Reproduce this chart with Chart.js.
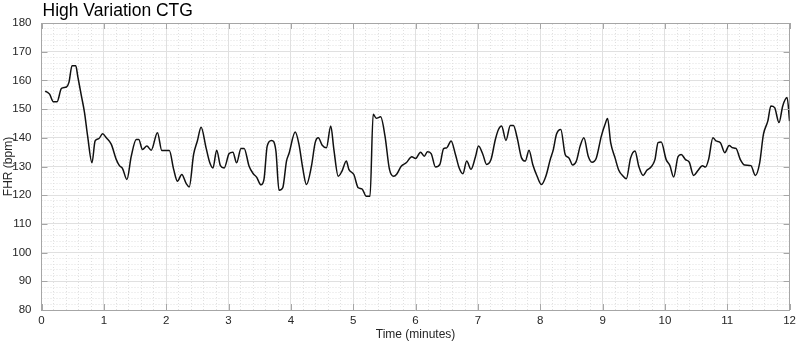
<!DOCTYPE html>
<html>
<head>
<meta charset="utf-8">
<script src="https://cdn.jsdelivr.net/npm/chart.js@4/dist/chart.umd.min.js"></script>
<style>
  html, body { margin: 0; padding: 0; background: #fff; }
  #wrap { width: 800px; height: 346px; position: relative; }
</style>
</head>
<body>
<div id="wrap"><canvas id="ctg"></canvas></div>
<script>
// Time (minutes) and FHR (bpm)
const minutes = [
  0.06, 0.13, 0.19, 0.25, 0.32, 0.40, 0.44, 0.49, 0.55, 0.58,
  0.64, 0.69, 0.74, 0.81, 0.86, 0.92, 0.98, 1.04, 1.12, 1.20,
  1.25, 1.30, 1.37, 1.44, 1.52, 1.56, 1.62, 1.69, 1.76, 1.86,
  1.93, 2.05, 2.12, 2.18, 2.25, 2.32, 2.37, 2.44, 2.50, 2.56,
  2.64, 2.70, 2.75, 2.81, 2.87, 2.93, 3.01, 3.07, 3.13, 3.20,
  3.25, 3.33, 3.40, 3.45, 3.52, 3.57, 3.62, 3.69, 3.76, 3.81,
  3.87, 3.93, 3.97, 4.07, 4.13, 4.19, 4.25, 4.33, 4.39, 4.44,
  4.50, 4.57, 4.64, 4.69, 4.76, 4.82, 4.89, 4.93, 5.01, 5.08,
  5.14, 5.21, 5.27, 5.32, 5.37, 5.44, 5.51, 5.58, 5.65, 5.70,
  5.77, 5.85, 5.94, 6.00, 6.08, 6.14, 6.19, 6.25, 6.32, 6.39,
  6.45, 6.50, 6.57, 6.64, 6.70, 6.76, 6.82, 6.89, 6.96, 7.01,
  7.08, 7.14, 7.21, 7.28, 7.33, 7.38, 7.45, 7.52, 7.57, 7.63,
  7.70, 7.76, 7.82, 7.88, 7.95, 8.02, 8.09, 8.16, 8.21, 8.26,
  8.33, 8.40, 8.46, 8.52, 8.58, 8.64, 8.70, 8.77, 8.83, 8.90,
  8.98, 9.04, 9.08, 9.13, 9.20, 9.26, 9.33, 9.38, 9.45, 9.52,
  9.58, 9.65, 9.71, 9.78, 9.84, 9.89, 9.94, 10.02, 10.08, 10.14,
  10.21, 10.26, 10.33, 10.39, 10.46, 10.53, 10.60, 10.65, 10.70, 10.77,
  10.82, 10.89, 10.96, 11.03, 11.09, 11.14, 11.21, 11.28, 11.38, 11.45,
  11.52, 11.58, 11.65, 11.70, 11.76, 11.83, 11.89, 11.96, 12.00
];
const fhr = [
  156.3, 155.2, 152.6, 152.6, 157.2, 157.7, 159.3, 165.1, 165.1, 161.6,
  154.6, 148.8, 140.6, 131.3, 138.9, 139.7, 141.4, 140.0, 137.7, 132.4,
  130.3, 129.3, 125.5, 133.6, 139.4, 139.4, 135.9, 137.1, 135.7, 141.8,
  135.6, 135.6, 129.0, 124.9, 127.2, 124.1, 122.9, 134.2, 138.9, 143.7,
  136.5, 131.3, 129.5, 135.7, 130.3, 129.5, 134.5, 135.0, 131.3, 136.3,
  136.3, 130.1, 127.4, 126.3, 123.6, 125.7, 137.1, 139.1, 135.4, 121.7,
  122.6, 131.9, 134.5, 142.0, 137.7, 129.5, 123.7, 130.1, 138.3, 140.0,
  137.5, 136.5, 144.1, 135.9, 126.6, 128.4, 131.9, 129.0, 127.2, 122.6,
  122.2, 119.6, 119.6, 148.2, 146.8, 147.3, 140.6, 129.2, 126.6, 127.4,
  130.1, 131.3, 133.4, 132.8, 135.0, 133.6, 135.1, 134.5, 129.8, 130.7,
  136.2, 136.5, 138.9, 134.2, 129.5, 127.5, 131.9, 129.0, 133.3, 137.1,
  134.2, 130.7, 132.4, 139.4, 142.9, 144.1, 139.1, 144.3, 144.3, 140.0,
  133.0, 131.9, 135.7, 130.7, 126.6, 123.7, 126.6, 132.4, 135.9, 141.2,
  142.9, 134.2, 133.0, 130.5, 131.9, 137.1, 140.0, 133.6, 131.5, 133.0,
  140.6, 144.7, 146.7, 138.3, 133.0, 128.7, 126.6, 125.7, 133.0, 135.4,
  130.1, 126.9, 128.7, 129.9, 132.4, 138.3, 138.5, 132.4, 130.3, 126.3,
  133.4, 134.2, 132.4, 131.5, 126.9, 128.6, 130.3, 129.8, 132.4, 140.0,
  138.9, 138.3, 134.8, 137.3, 136.5, 136.3, 132.4, 130.5, 130.3, 126.9,
  131.3, 141.2, 145.8, 151.1, 150.5, 145.3, 151.1, 154.0, 145.8
];
const xTicks = [0, 1, 2, 3, 4, 5, 6, 7, 8, 9, 10, 11, 12];
const yTicks = [80, 90, 100, 110, 120, 130, 140, 150, 160, 170, 180];

const titulo = 'High Variation CTG';
const corEixo = '#a6a6a6';
const corTexto = '#262626';
const fonte = 'Helvetica, "Liberation Sans", Arial, sans-serif';

const pontos = minutes.map((t, i) => ({ x: t, y: fhr[i] }));

function ehInteiro(v, passo) {
  const r = v / passo;
  return Math.abs(r - Math.round(r)) < 1e-6;
}

// titulo alinhado com a area do grafico, e ticks para dentro nos quatro lados
const caixaPlugin = {
  id: 'caixa',
  afterDraw(chart) {
    const { ctx, chartArea: a, scales } = chart;
    ctx.save();
    ctx.fillStyle = '#000';
    ctx.font = '17.5px ' + fonte;
    ctx.textBaseline = 'alphabetic';
    ctx.textAlign = 'left';
    ctx.fillText(titulo, a.left + 1, 16);

    ctx.strokeStyle = corEixo;
    ctx.lineWidth = 1;
    ctx.beginPath();
    const len = 6;
    xTicks.forEach(v => {
      const px = Math.round(scales.x.getPixelForValue(v)) + 0.5;
      ctx.moveTo(px, a.bottom); ctx.lineTo(px, a.bottom - len);
      ctx.moveTo(px, a.top); ctx.lineTo(px, a.top + len);
    });
    yTicks.forEach(v => {
      const py = Math.round(scales.y.getPixelForValue(v)) + 0.5;
      ctx.moveTo(a.left, py); ctx.lineTo(a.left + len, py);
      ctx.moveTo(a.right, py); ctx.lineTo(a.right - len, py);
    });
    ctx.stroke();
    ctx.restore();
  }
};

new Chart(document.getElementById('ctg'), {
  type: 'line',
  data: {
    datasets: [{
      label: 'FHR',
      data: pontos,
      borderColor: '#111111',
      borderWidth: 1.5,
      pointRadius: 0,
      fill: false,
      cubicInterpolationMode: 'monotone'
    }]
  },
  options: {
    responsive: true,
    maintainAspectRatio: false,
    animation: false,
    layout: { padding: { top: 23, right: 7, left: 0, bottom: 0 } },
    plugins: {
      legend: { display: false },
      title: { display: false },
      tooltip: { enabled: false }
    },
    scales: {
      x: {
        type: 'linear',
        position: 'bottom',
        min: 0,
        max: 12,
        ticks: {
          stepSize: 1,
          padding: 4,
          color: corTexto,
          maxRotation: 0,
          font: { family: fonte, size: 11.5 }
        },
        grid: { color: '#e0e0e0', drawTicks: false },
        border: { color: corEixo },
        title: {
          display: true,
          text: 'Time (minutes)',
          color: corTexto,
          font: { family: fonte, size: 12 },
          padding: { top: 0, bottom: 4 }
        },
        afterFit(s) { s.height = 36; }
      },
      xMinor: {
        type: 'linear',
        position: 'top',
        min: 0,
        max: 12,
        ticks: { display: false, stepSize: 0.2 },
        grid: {
          drawTicks: false,
          color: ctx => ehInteiro(ctx.tick.value, 1) ? 'rgba(0,0,0,0)' : '#e0e0e0'
        },
        border: { color: corEixo, dash: [1, 2] },
        afterFit(s) { s.height = 0; }
      },
      y: {
        type: 'linear',
        position: 'left',
        min: 80,
        max: 180,
        ticks: {
          stepSize: 10,
          padding: 10,
          color: corTexto,
          font: { family: fonte, size: 11.5 }
        },
        grid: { color: '#e0e0e0', drawTicks: false },
        border: { color: corEixo },
        title: {
          display: true,
          text: 'FHR (bpm)',
          color: corTexto,
          font: { family: fonte, size: 12 },
          padding: { top: 1, bottom: 0 }
        },
        afterFit(s) { s.width = 41.5; }
      },
      yMinor: {
        type: 'linear',
        position: 'right',
        min: 80,
        max: 180,
        ticks: { display: false, stepSize: 2 },
        grid: {
          drawTicks: false,
          color: ctx => ehInteiro(ctx.tick.value, 10) ? 'rgba(0,0,0,0)' : '#e0e0e0'
        },
        border: { color: corEixo, dash: [1, 2] },
        afterFit(s) { s.width = 0; }
      }
    }
  },
  plugins: [caixaPlugin]
});
</script>
</body>
</html>
